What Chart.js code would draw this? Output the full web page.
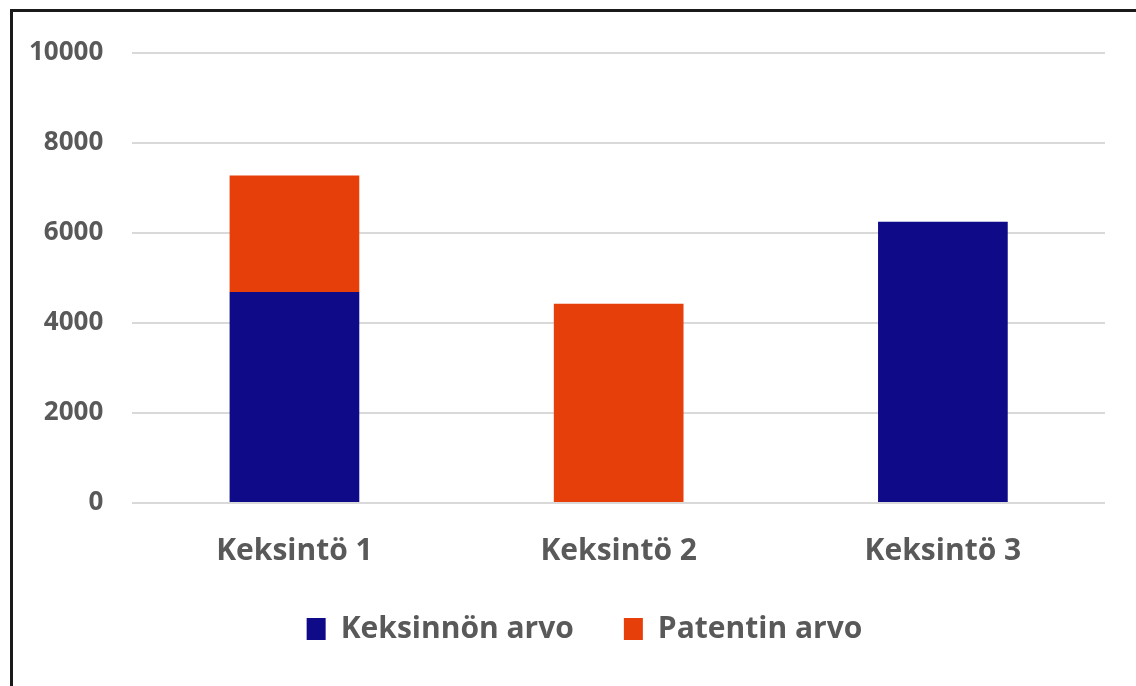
<!DOCTYPE html>
<html>
<head>
<meta charset="utf-8">
<script src="https://cdn.jsdelivr.net/npm/chart.js@4.4.0/dist/chart.umd.min.js"></script>
<style>
  html, body { margin: 0; padding: 0; background: #ffffff; }
  #wrap { position: absolute; left: 0; top: 0; width: 1136px; height: 686px; overflow: hidden; background: #fff; }
  #frame { position: absolute; left: 10px; top: 9px; right: -10px; bottom: -10px;
           border-left: 3px solid #1a1a1a; border-top: 3px solid #1a1a1a; pointer-events: none; }
  canvas { position: absolute; left: 0; top: 0; }
</style>
</head>
<body>
<div id="wrap">
  <canvas id="c" width="1136" height="686"></canvas>
  <div id="frame"></div>
</div>
<script>
const categories = ["Keksintö 1", "Keksintö 2", "Keksintö 3"];
const seriesNames = ["Keksinnön arvo", "Patentin arvo"];
const keksinnonArvo = [4690, 0, 6250];
const patentinArvo = [2590, 4430, 0];
const yTicks = [0, 2000, 4000, 6000, 8000, 10000];

const FONT = "'Open Sans', 'Liberation Sans', sans-serif";
const TEXT = "#595959";

// Widen the horizontal gap between legend items (and nudge the row right)
// without changing the vertical layout.
const legendGap = {
  id: "legendGap",
  beforeDraw(chart, args, opts) {
    const lg = chart.legend;
    if (!lg || !lg.lineWidths) return;
    const extra = opts.extra || 0;
    const shift = opts.shift || 0;
    lg._gapSaved = { pad: lg.options.labels.padding, top: lg.top, left: lg.left, widths: lg.lineWidths.slice() };
    lg.options.labels.padding = lg._gapSaved.pad + extra;
    lg.top -= extra;
    lg.left += 2 * shift;
    lg.lineWidths = lg.lineWidths.map(w => w + 2 * extra);
  },
  afterDraw(chart) {
    const lg = chart.legend;
    if (!lg || !lg._gapSaved) return;
    lg.options.labels.padding = lg._gapSaved.pad;
    lg.top = lg._gapSaved.top;
    lg.left = lg._gapSaved.left;
    lg.lineWidths = lg._gapSaved.widths;
    lg._gapSaved = null;
  }
};

new Chart(document.getElementById("c"), {
  type: "bar",
  data: {
    labels: categories,
    datasets: [
      { label: seriesNames[0], data: keksinnonArvo, backgroundColor: "#0f0a87", borderWidth: 0, categoryPercentage: 0.8, barPercentage: 0.5 },
      { label: seriesNames[1], data: patentinArvo, backgroundColor: "#e63f0a", borderWidth: 0, categoryPercentage: 0.8, barPercentage: 0.5 }
    ]
  },
  plugins: [legendGap],
  options: {
    responsive: false,
    animation: false,
    layout: { padding: { left: 0, right: 31, top: 53, bottom: 32 } },
    plugins: {
      tooltip: { enabled: false },
      legendGap: { extra: 35, shift: 32 },
      legend: {
        position: "bottom",
        labels: {
          color: TEXT,
          font: { family: FONT, size: 30, weight: "bold" },
          boxWidth: 19, boxHeight: 22,
          padding: 15
        }
      }
    },
    scales: {
      x: {
        stacked: true,
        grid: { display: false, drawTicks: false },
        border: { display: false },
        ticks: { color: TEXT, font: { family: FONT, size: 30, weight: "bold" }, padding: 30 }
      },
      y: {
        stacked: true,
        min: 0, max: 10000,
        afterBuildTicks: (axis) => { axis.ticks = yTicks.map(v => ({ value: v })); },
        grid: { color: "#d9d9d9", lineWidth: 2, drawTicks: false },
        border: { display: false },
        ticks: { color: TEXT, font: { family: FONT, size: 26, weight: "bold" }, padding: 29,
                 callback: (v) => String(v) }
      }
    }
  }
});
</script>
</body>
</html>
